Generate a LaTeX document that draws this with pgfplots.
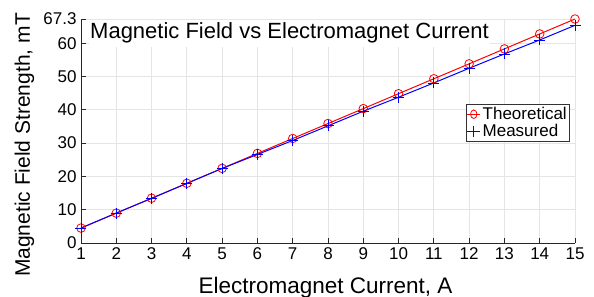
\documentclass[border=0pt]{standalone}
\usepackage{pgfplots}
\pgfplotsset{compat=1.18}
\usepackage{fontspec}
\setmainfont{Liberation Sans}
\begin{document}
\begin{tikzpicture}
\begin{axis}[
  at={(0,0)}, anchor=south west,
  scale only axis,
  width=494pt, height=224pt,
  xmin=1, xmax=15, ymin=0, ymax=67.3,
  xtick={1,...,15},
  ytick={0,10,20,30,40,50,60,67.3},
  yticklabels={0,10,20,30,40,50,60,67.3},
  axis lines*=left,
  axis line style={black!85, line width=0.8pt},
  tick align=inside,
  tick style={black!85, line width=0.8pt},
  major tick length=5pt,
  grid=major,
  grid style={gray!20, line width=0.8pt},
  /pgf/number format/assume math mode=true,
  ticklabel style={font=\fontsize{17}{20}\selectfont},
  xticklabel style={yshift=-1pt},
  yticklabel style={xshift=-1pt},
  xlabel={Electromagnet Current, A},
  ylabel={Magnetic Field Strength, mT},
  xlabel style={font=\fontsize{22.5}{26}\selectfont, at={([yshift=-50pt]rel axis cs:0.495,0)}, anchor=base},
  ylabel style={font=\fontsize{21}{25}\selectfont, at={([xshift=-51pt]rel axis cs:0,0.4375)}, anchor=base},
  legend style={at={(rel axis cs:0.99,0.6205)}, anchor=north east, font=\fontsize{17}{19}\selectfont, draw=black!80, line width=0.6pt, inner xsep=1pt, inner ysep=1pt, row sep=-1pt, cells={anchor=west}},
  legend image post style={xscale=0.75},
]
\addplot[red, line width=1pt, mark=o, mark size=4.3pt, mark options={red, solid, line width=0.8pt}] coordinates {
(1,4.49) (2,8.97) (3,13.46) (4,17.94) (5,22.43) (6,26.92) (7,31.40) (8,35.89)
(9,40.37) (10,44.86) (11,49.35) (12,53.83) (13,58.32) (14,62.81) (15,67.30)};
\addlegendentry{Theoretical}
\addplot[blue, line width=1pt, mark=+, mark size=5.5pt, mark options={blue, solid, line width=0.8pt}] coordinates {
(1,4.50) (2,9.00) (3,13.40) (4,17.90) (5,22.40) (6,26.60) (7,30.80) (8,35.20)
(9,39.60) (10,43.80) (11,48.10) (12,52.50) (13,56.80) (14,61.00) (15,65.40)};
\addlegendentry{Measured}
\node[anchor=base west, font=\fontsize{22}{25}\selectfont, fill=white, inner xsep=1pt, inner ysep=3pt] at ([xshift=8pt,yshift=-20pt]rel axis cs:0,1) {Magnetic Field vs Electromagnet Current};
\end{axis}
\pgfresetboundingbox
\path (-81pt,-54pt) rectangle (513pt,243pt);
\end{tikzpicture}
\end{document}
